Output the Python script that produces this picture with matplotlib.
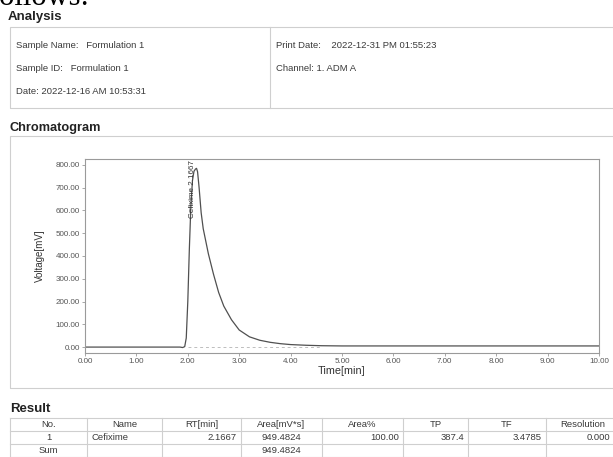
import matplotlib
matplotlib.use("Agg")
import matplotlib.pyplot as plt
from matplotlib.patches import Rectangle
from matplotlib.lines import Line2D

W, H = 613, 457

# chromatogram trace
time_min = [0.0, 1.0, 1.85, 1.90, 1.94, 1.97, 2.00, 2.03, 2.06, 2.09, 2.12, 2.15, 2.17,
            2.19, 2.22, 2.26, 2.30, 2.35, 2.40, 2.50, 2.60, 2.70, 2.85, 3.00, 3.20,
            3.40, 3.60, 3.80, 4.00, 4.30, 4.60, 5.00, 7.00, 10.0]
voltage_mv = [0.0, 0.0, 0.0, -2.0, 2.0, 40.0, 200.0, 430.0, 620.0, 730.0, 772.0, 782.0, 785.0,
              770.0, 700.0, 590.0, 520.0, 465.0, 410.0, 320.0, 240.0, 180.0, 120.0, 75.0, 45.0,
              30.0, 21.0, 15.0, 11.0, 8.0, 6.0, 5.0, 5.0, 5.0]
peak_label = "Cefixime 2.1667"
peak_rt = 2.1667

x_ticks = [0, 1, 2, 3, 4, 5, 6, 7, 8, 9, 10]
y_ticks = [0, 100, 200, 300, 400, 500, 600, 700, 800]

info_left = ["Sample Name:   Formulation 1", "Sample ID:   Formulation 1",
             "Date: 2022-12-16 AM 10:53:31"]
info_right = ["Print Date:    2022-12-31 PM 01:55:23", "Channel: 1. ADM A"]

table_header = ["No.", "Name", "RT[min]", "Area[mV*s]", "Area%", "TP", "TF", "Resolution"]
table_row1 = ["1", "Cefixime", "2.1667", "949.4824", "100.00", "387.4", "3.4785", "0.000"]
table_sum = ["Sum", "", "", "949.4824", "", "", "", ""]

plt.rcParams["font.family"] = ["Liberation Sans", "DejaVu Sans"]

fig = plt.figure(figsize=(W / 100, H / 100), dpi=100)
fig.patch.set_facecolor("white")


def fx(px):
    return px / W


def fy(py):
    return 1 - py / H


def box(x0, y0, x1, y1, color="#cfcfcf", lw=0.8):
    fig.add_artist(Rectangle((fx(x0), fy(y1)), fx(x1) - fx(x0), fy(y0) - fy(y1),
                             transform=fig.transFigure, fill=False,
                             edgecolor=color, linewidth=lw))


def hline(x0, x1, y, color="#cfcfcf", lw=0.8):
    fig.add_artist(Line2D([fx(x0), fx(x1)], [fy(y), fy(y)], transform=fig.transFigure,
                          color=color, linewidth=lw))


def vline(x, y0, y1, color="#cfcfcf", lw=0.8):
    fig.add_artist(Line2D([fx(x), fx(x)], [fy(y0), fy(y1)], transform=fig.transFigure,
                          color=color, linewidth=lw))


TXT = "#3a3a3a"
FS = 6.8

# cut-off line of the surrounding document
fig.text(fx(-11), fy(5), "follows:", family="Liberation Serif", fontsize=22,
         color="black", va="baseline", ha="left")

# ---- Analysis block ----
fig.text(fx(8), fy(17), "Analysis", fontsize=9.5, fontweight="bold", color="#222", va="center")
box(10, 27, 640, 108)
vline(270, 27, 108)
for i, s in enumerate(info_left):
    fig.text(fx(16), fy(46 + i * 22.5), s, fontsize=FS, color=TXT, va="center")
for i, s in enumerate(info_right):
    fig.text(fx(276), fy(46 + i * 22.5), s, fontsize=FS, color=TXT, va="center")

# ---- Chromatogram block ----
fig.text(fx(10), fy(128), "Chromatogram", fontsize=9.2, fontweight="bold", color="#222",
         va="center")
box(10, 136, 640, 388)

ax = fig.add_axes([fx(85), fy(353), fx(599) - fx(85), fy(159) - fy(353)])
ax.plot(time_min, voltage_mv, color="#505050", lw=0.9)
ax.plot([2.0, 4.6], [0, 0], color="#bdbdbd", lw=0.7, ls=(0, (3, 3)))
ax.set_xlim(0, 10)
ax.set_ylim(-26, 826)
ax.set_xticks(x_ticks)
ax.set_xticklabels([f"{v:.2f}" for v in x_ticks])
ax.set_yticks(y_ticks)
ax.set_yticklabels([f"{v:.2f}" for v in y_ticks])
ax.tick_params(labelsize=5.8, colors="#999999", labelcolor="#555555", length=2, width=0.6,
               pad=1.5)
for sp in ax.spines.values():
    sp.set_color("#9a9a9a")
    sp.set_linewidth(0.8)
ax.set_xlabel("Time[min]", fontsize=7.8, color="#333", labelpad=0.5)
ax.set_ylabel("Voltage[mV]", fontsize=7, color="#333", labelpad=8)
ax.text(peak_rt - 0.08, 822, peak_label, rotation=90, fontsize=5.8, color="#333",
        ha="center", va="top", family=["Liberation Sans Narrow", "Liberation Sans"])

# ---- Result table ----
fig.text(fx(10), fy(409), "Result", fontsize=9.5, fontweight="bold", color="#222", va="center")
col_edges = [10, 87, 162, 241, 322, 403, 468, 546, 640]
row_edges = [418, 431, 444, 457]
for y in row_edges:
    hline(10, 640, y)
for x in col_edges:
    vline(x, 418, 460)

align_row1 = ["center", "left", "right", "center", "right", "right", "right", "left"]
for j in range(len(table_header)):
    x0, x1 = col_edges[j], col_edges[j + 1]
    xc = (x0 + x1) / 2 if j < len(table_header) - 1 else 583
    fig.text(fx(xc), fy(424.5), table_header[j], fontsize=FS, color=TXT,
             ha="center", va="center")
    a = align_row1[j]
    xp = {"center": xc, "left": x0 + 4, "right": x1 - 4}[a]
    if j == len(table_header) - 1:
        xp = 587
    fig.text(fx(xp), fy(437.5), table_row1[j], fontsize=FS, color=TXT, ha=a, va="center")
    if table_sum[j]:
        fig.text(fx(xc), fy(450.5), table_sum[j], fontsize=FS, color=TXT,
                 ha="center", va="center")

fig.savefig("out.png", dpi=100)
